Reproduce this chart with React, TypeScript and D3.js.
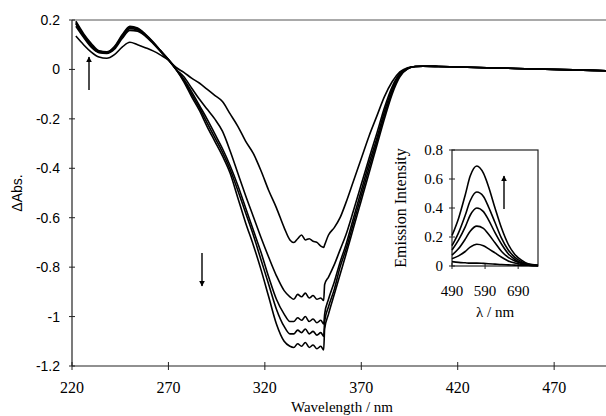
import { useEffect, useRef } from "react";
import * as d3 from "d3";

// wavelength grid (nm) shared by the difference spectra
const wavelengths = [
  222, 226, 230, 234, 238, 242, 246, 250, 254, 258, 262, 266, 270, 274,
  278, 282, 286, 290, 294, 298, 302, 306, 310, 314, 318, 322, 326, 330,
  333, 335, 337, 339, 341, 343, 345, 347, 349, 350.5,
  351, 353, 356, 359, 362, 366, 370, 374, 378, 382, 386, 390, 394, 398,
  402, 410, 420, 440, 460, 480, 500,
];

// ΔAbs. for each spectrum (first -> last)
const spectrum1 = [
  0.135, 0.1, 0.07, 0.05, 0.045, 0.06, 0.09, 0.11, 0.1, 0.088, 0.075, 0.058, 0.038, 0.008,
  -0.012, -0.035, -0.055, -0.08, -0.105, -0.13, -0.18, -0.23, -0.29, -0.34, -0.41, -0.49, -0.56, -0.64,
  -0.69, -0.7, -0.685, -0.67, -0.69, -0.685, -0.695, -0.7, -0.715, -0.72,
  -0.71, -0.67, -0.64, -0.6, -0.54, -0.45, -0.36, -0.27, -0.19, -0.11, -0.05, -0.01, 0.007, 0.012,
  0.013, 0.012, 0.01, 0.006, 0.002, -0.002, -0.006,
];
const spectrum2 = [
  0.175, 0.13, 0.09, 0.068, 0.065, 0.082, 0.125, 0.158, 0.155, 0.135, 0.105, 0.072, 0.038, 0.0,
  -0.03, -0.075, -0.12, -0.16, -0.2, -0.25, -0.33, -0.42, -0.51, -0.595, -0.68, -0.76, -0.835, -0.895,
  -0.92, -0.93, -0.91, -0.92, -0.905, -0.925, -0.915, -0.93, -0.925, -0.935,
  -0.87, -0.84, -0.79, -0.73, -0.67, -0.57, -0.465, -0.36, -0.26, -0.155, -0.07, -0.017, 0.005, 0.012,
  0.013, 0.012, 0.01, 0.006, 0.002, -0.002, -0.006,
];
const spectrum3 = [
  0.185, 0.135, 0.095, 0.07, 0.067, 0.087, 0.13, 0.165, 0.16, 0.138, 0.108, 0.073, 0.04, 0.0,
  -0.04, -0.09, -0.145, -0.2, -0.26, -0.32, -0.39, -0.47, -0.56, -0.65, -0.74, -0.84, -0.93, -0.99,
  -1.02, -1.02, -1.005, -1.015, -1.0, -1.02, -1.01, -1.025, -1.015, -1.03,
  -0.99, -0.93, -0.86, -0.78, -0.71, -0.6, -0.49, -0.38, -0.28, -0.17, -0.08, -0.02, 0.004, 0.012,
  0.013, 0.012, 0.01, 0.006, 0.002, -0.002, -0.006,
];
const spectrum4 = [
  0.19, 0.14, 0.1, 0.073, 0.07, 0.09, 0.135, 0.17, 0.165, 0.141, 0.11, 0.075, 0.04, 0.0,
  -0.045, -0.1, -0.155, -0.215, -0.275, -0.335, -0.405, -0.49, -0.58, -0.67, -0.77, -0.87, -0.97, -1.04,
  -1.07, -1.07, -1.055, -1.065, -1.05, -1.07, -1.06, -1.075, -1.065, -1.08,
  -1.02, -0.96, -0.89, -0.8, -0.73, -0.62, -0.51, -0.4, -0.295, -0.185, -0.09, -0.025, 0.003, 0.012,
  0.013, 0.012, 0.01, 0.006, 0.002, -0.002, -0.006,
];
const spectrum5 = [
  0.195, 0.145, 0.105, 0.075, 0.071, 0.093, 0.14, 0.175, 0.168, 0.143, 0.112, 0.076, 0.04, 0.0,
  -0.05, -0.11, -0.165, -0.23, -0.29, -0.35, -0.42, -0.52, -0.62, -0.71, -0.81, -0.92, -1.03, -1.1,
  -1.12, -1.125, -1.11, -1.12, -1.105, -1.125, -1.115, -1.13, -1.12, -1.135,
  -1.05, -0.99, -0.91, -0.83, -0.75, -0.64, -0.53, -0.42, -0.31, -0.2, -0.1, -0.03, 0.002, 0.012,
  0.013, 0.012, 0.01, 0.006, 0.002, -0.002, -0.006,
];

const xTicks = [220, 270, 320, 370, 420, 470];
const yTicks = [0.2, 0, -0.2, -0.4, -0.6, -0.8, -1, -1.2];

// inset: emission spectra
const emWavelengths = [490, 510, 530, 545, 565, 585, 600, 620, 640, 660, 680, 700, 720, 750];
const emission1 = [0.03, 0.025, 0.022, 0.02, 0.02, 0.018, 0.016, 0.013, 0.01, 0.008, 0.006, 0.004, 0.003, 0.002];
const emission2 = [0.05, 0.07, 0.1, 0.13, 0.15, 0.14, 0.12, 0.09, 0.06, 0.035, 0.02, 0.01, 0.005, 0.002];
const emission3 = [0.075, 0.12, 0.185, 0.24, 0.275, 0.26, 0.22, 0.16, 0.1, 0.06, 0.035, 0.018, 0.008, 0.003];
const emission4 = [0.11, 0.18, 0.27, 0.35, 0.4, 0.375, 0.32, 0.23, 0.15, 0.085, 0.045, 0.022, 0.01, 0.003];
const emission5 = [0.14, 0.23, 0.35, 0.45, 0.51, 0.48, 0.41, 0.3, 0.19, 0.11, 0.06, 0.03, 0.012, 0.004];
const emission6 = [0.21, 0.33, 0.49, 0.62, 0.69, 0.64, 0.55, 0.4, 0.26, 0.15, 0.08, 0.04, 0.015, 0.005];

const emXTicks = [490, 590, 690];
const emYTicks = [0, 0.2, 0.4, 0.6, 0.8];

const serif = "'Liberation Serif', 'Times New Roman', serif";
const sans = "'Liberation Sans', Arial, sans-serif";

const drawChart = (node: SVGSVGElement) => {
  const svg = d3.select(node);
  svg.selectAll("*").remove();

  const x = d3.scaleLinear().domain([220, 500]).range([72, 612]);
  const y = d3.scaleLinear().domain([-1.2, 0.2]).range([366, 20]);

  // arrow head marker
  svg.append("defs")
    .append("marker")
    .attr("id", "head")
    .attr("viewBox", "0 0 10 10")
    .attr("refX", 9)
    .attr("refY", 5)
    .attr("markerWidth", 6)
    .attr("markerHeight", 7)
    .attr("markerUnits", "userSpaceOnUse")
    .attr("orient", "auto")
    .append("path")
    .attr("d", "M0,0 L10,5 L0,10 z")
    .attr("fill", "#000");

  // frame
  const frame = svg.append("g").attr("stroke", "#222").attr("stroke-width", 1.2);
  frame.append("line").attr("x1", 72).attr("x2", 606).attr("y1", 20).attr("y2", 20).attr("stroke", "#555").attr("stroke-width", 1);
  frame.append("line").attr("x1", 72).attr("x2", 72).attr("y1", 20).attr("y2", 366);
  frame.append("line").attr("x1", 72).attr("x2", 606).attr("y1", 366).attr("y2", 366);

  // y ticks + labels
  svg.append("g").selectAll("line").data(yTicks).join("line")
    .attr("x1", 69).attr("x2", 75)
    .attr("y1", d => y(d)).attr("y2", d => y(d))
    .attr("stroke", "#222");
  svg.append("g").selectAll("text").data(yTicks).join("text")
    .attr("x", 60).attr("y", d => y(d) + 5)
    .attr("text-anchor", "end")
    .style("font-family", sans).style("font-size", "14px")
    .text(d => String(+d.toFixed(1)));

  // x ticks + labels
  svg.append("g").selectAll("line").data(xTicks).join("line")
    .attr("x1", d => x(d)).attr("x2", d => x(d))
    .attr("y1", 362).attr("y2", 370)
    .attr("stroke", "#222");
  svg.append("g").selectAll("text").data(xTicks).join("text")
    .attr("x", d => x(d)).attr("y", 393)
    .attr("text-anchor", "middle")
    .style("font-family", serif).style("font-size", "16px")
    .text(d => d);

  // axis titles
  svg.append("text")
    .attr("x", 342).attr("y", 412)
    .attr("text-anchor", "middle")
    .style("font-family", serif).style("font-size", "15px")
    .text("Wavelength / nm");
  svg.append("text")
    .attr("transform", "translate(22,193) rotate(-90)")
    .attr("text-anchor", "middle")
    .style("font-family", sans).style("font-size", "14px")
    .text("ΔAbs.");

  // difference spectra
  const line = d3.line<number>()
    .x((_, i) => x(wavelengths[i]))
    .y(d => y(d))
    .curve(d3.curveMonotoneX);

  svg.append("g").selectAll("path")
    .data([spectrum1, spectrum2, spectrum3, spectrum4, spectrum5])
    .join("path")
    .attr("d", d => line(d))
    .attr("fill", "none")
    .attr("stroke", "#000")
    .attr("stroke-width", 1.6)
    .attr("stroke-linejoin", "round");

  // arrows on main plot
  svg.append("line").attr("x1", 89).attr("x2", 89).attr("y1", 90).attr("y2", 57)
    .attr("stroke", "#000").attr("stroke-width", 1.4).attr("marker-end", "url(#head)");
  svg.append("line").attr("x1", 202).attr("x2", 202).attr("y1", 253).attr("y2", 286)
    .attr("stroke", "#000").attr("stroke-width", 1.4).attr("marker-end", "url(#head)");

  // ---- inset ----
  const ix = d3.scaleLinear().domain([490, 750]).range([452, 538]);
  const iy = d3.scaleLinear().domain([0, 0.8]).range([266, 150]);

  const inset = svg.append("g");
  inset.append("rect")
    .attr("x", 452).attr("y", 150).attr("width", 86).attr("height", 116)
    .attr("fill", "none").attr("stroke", "#222").attr("stroke-width", 1.2);

  inset.selectAll("line.yt").data(emYTicks).join("line")
    .attr("class", "yt")
    .attr("x1", 449).attr("x2", 455)
    .attr("y1", d => iy(d)).attr("y2", d => iy(d))
    .attr("stroke", "#222");
  inset.selectAll("text.yl").data(emYTicks).join("text")
    .attr("class", "yl")
    .attr("x", 443).attr("y", d => iy(d) + 5)
    .attr("text-anchor", "end")
    .style("font-family", serif).style("font-size", "15px")
    .text(d => String(+d.toFixed(1)));

  inset.selectAll("line.xt").data(emXTicks).join("line")
    .attr("class", "xt")
    .attr("x1", d => ix(d)).attr("x2", d => ix(d))
    .attr("y1", 263).attr("y2", 269)
    .attr("stroke", "#222");
  inset.selectAll("text.xl").data(emXTicks).join("text")
    .attr("class", "xl")
    .attr("x", d => ix(d)).attr("y", 296)
    .attr("text-anchor", "middle")
    .style("font-family", serif).style("font-size", "15px")
    .text(d => d);

  inset.append("text")
    .attr("x", 495).attr("y", 317)
    .attr("text-anchor", "middle")
    .style("font-family", serif).style("font-size", "15px")
    .text("λ / nm");
  inset.append("text")
    .attr("transform", "translate(406,208) rotate(-90)")
    .attr("text-anchor", "middle")
    .style("font-family", serif).style("font-size", "16px")
    .text("Emission Intensity");

  const emLine = d3.line<number>()
    .x((_, i) => ix(emWavelengths[i]))
    .y(d => iy(d))
    .curve(d3.curveMonotoneX);

  inset.append("g").selectAll("path")
    .data([emission1, emission2, emission3, emission4, emission5, emission6])
    .join("path")
    .attr("d", d => emLine(d))
    .attr("fill", "none")
    .attr("stroke", "#000")
    .attr("stroke-width", 1.6);

  inset.append("line").attr("x1", 504).attr("x2", 504).attr("y1", 209).attr("y2", 176)
    .attr("stroke", "#000").attr("stroke-width", 1.4).attr("marker-end", "url(#head)");
};

export default function App() {
  const ref = useRef<SVGSVGElement>(null);

  useEffect(() => {
    if (ref.current) drawChart(ref.current);
  }, []);

  return (
    <div style={{ position: "absolute", left: 0, top: 0 }}>
      <svg ref={ref} width={606} height={416} style={{ display: "block", background: "#fff" }} />
    </div>
  );
}
